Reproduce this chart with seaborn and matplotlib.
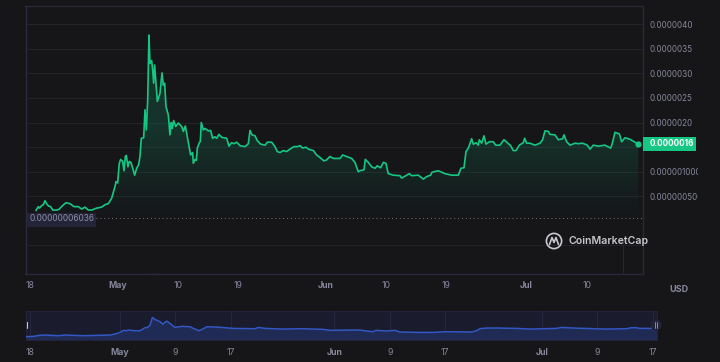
import numpy as np
import pandas as pd
import seaborn as sns
import matplotlib.pyplot as plt
import matplotlib.dates as mdates
from matplotlib.lines import Line2D
from matplotlib.patches import Circle, Rectangle
from matplotlib.transforms import Bbox

# giorni dal 18 aprile / prezzo in 1e-6 USD
giorni = [0.89, 1.24, 1.39, 1.74, 1.99, 2.24, 2.48, 2.78, 3.08, 3.38, 3.97, 4.37, 4.77, 5.37, 5.96, 6.56, 7.20, 7.70, 8.20, 8.69,
          9.19, 9.94, 10.68, 11.18, 11.67, 12.17, 12.67, 12.82, 13.06, 13.31, 13.51, 13.81, 14.01, 14.21, 14.36, 14.60, 14.80, 15.05, 15.30, 15.60,
          15.90, 16.19, 16.39, 16.59, 16.94, 17.14, 17.34, 17.54, 17.73, 17.88, 18.13, 18.28, 18.43, 18.58, 18.73, 18.98, 19.37, 19.67, 19.87, 20.07,
          20.27, 20.62, 20.86, 21.06, 21.21, 21.41, 21.71, 22.11, 22.60, 22.85, 23.15, 23.45, 23.94, 24.24, 24.34, 24.59, 24.79, 24.94, 25.24, 25.38,
          25.53, 25.83, 26.08, 26.58, 26.92, 27.22, 27.57, 27.82, 28.17, 28.56, 29.31, 29.66, 30.05, 30.40, 30.80, 31.30, 32.04, 32.54, 32.79, 33.08,
          33.53, 33.88, 34.38, 35.02, 35.37, 36.02, 36.51, 36.86, 37.26, 37.75, 38.25, 38.75, 39.34, 39.84, 40.24, 40.64, 41.13, 41.48, 42.23, 42.72,
          43.22, 43.81, 44.21, 44.71, 45.21, 46.20, 46.60, 47.19, 47.94, 48.43, 48.93, 49.18, 49.78, 49.97, 50.42, 50.92, 51.42, 51.76, 52.26, 52.66,
          53.05, 53.40, 54.15, 55.14, 55.39, 55.89, 56.53, 56.88, 57.87, 58.62, 59.12, 59.71, 59.91, 60.85, 61.85, 62.84, 63.83, 64.23, 64.68, 64.98,
          65.33, 65.82, 66.07, 66.47, 66.82, 66.96, 67.31, 67.66, 67.96, 68.45, 69.05, 69.40, 70.04, 70.64, 71.14, 71.63, 72.03, 72.43, 72.93, 73.52,
          73.72, 74.02, 74.52, 75.26, 76.01, 76.40, 76.75, 77.25, 77.50, 78.24, 78.74, 79.38, 79.58, 79.98, 80.48, 81.22, 81.72, 82.36, 83.06, 83.46,
          83.95, 84.70, 85.69, 86.54, 86.79, 87.18, 87.83, 88.18, 88.67, 89.42, 90.66]
prezzo = [0.21, 0.29, 0.26, 0.31, 0.33, 0.41, 0.35, 0.30, 0.29, 0.22, 0.22, 0.24, 0.30, 0.37, 0.35, 0.29, 0.29, 0.24, 0.28, 0.22,
          0.22, 0.26, 0.28, 0.33, 0.35, 0.46, 0.70, 0.80, 0.77, 1.17, 1.25, 1.21, 1.02, 1.31, 1.33, 1.10, 1.21, 1.19, 1.07, 0.93,
          1.07, 1.14, 1.31, 1.68, 1.69, 2.26, 1.85, 2.46, 3.78, 3.20, 3.26, 3.07, 2.80, 3.17, 2.90, 2.43, 2.59, 3.01, 2.76, 2.80,
          2.32, 2.15, 1.75, 2.00, 1.88, 2.04, 1.92, 1.99, 1.92, 1.82, 1.93, 1.71, 1.34, 1.39, 1.17, 1.25, 1.23, 1.48, 1.59, 1.61,
          2.00, 1.85, 1.88, 1.83, 1.84, 1.68, 1.71, 1.68, 1.76, 1.70, 1.68, 1.52, 1.59, 1.57, 1.60, 1.53, 1.51, 1.57, 1.84, 1.75,
          1.73, 1.63, 1.56, 1.54, 1.60, 1.60, 1.51, 1.41, 1.39, 1.43, 1.41, 1.46, 1.51, 1.51, 1.53, 1.48, 1.50, 1.46, 1.43, 1.34,
          1.29, 1.22, 1.24, 1.31, 1.27, 1.27, 1.34, 1.31, 1.27, 1.19, 1.00, 1.02, 1.04, 1.25, 1.19, 1.10, 1.07, 1.12, 1.08, 1.19,
          1.17, 0.96, 0.93, 0.92, 0.87, 0.91, 0.96, 0.92, 0.93, 0.85, 0.90, 0.93, 0.99, 1.02, 0.96, 0.93, 0.93, 1.07, 1.08, 1.41,
          1.48, 1.67, 1.56, 1.59, 1.54, 1.65, 1.58, 1.73, 1.56, 1.61, 1.61, 1.54, 1.54, 1.65, 1.59, 1.53, 1.43, 1.43, 1.54, 1.59,
          1.68, 1.58, 1.58, 1.54, 1.58, 1.65, 1.83, 1.82, 1.76, 1.75, 1.65, 1.67, 1.75, 1.61, 1.54, 1.58, 1.57, 1.58, 1.54, 1.46,
          1.54, 1.52, 1.54, 1.48, 1.58, 1.80, 1.77, 1.61, 1.69, 1.66, 1.56]

# serie del navigatore in basso
giorni_mini = [-0.67, 0.48, 1.35, 2.17, 4.09, 5.06, 7.71, 11.56, 12.28, 13.01, 13.49, 13.97, 14.21, 15.17, 15.90, 16.62, 17.00, 17.34, 17.68, 18.06,
               18.79, 19.17, 19.75, 20.23, 20.91, 21.92, 23.12, 23.60, 24.42, 25.05, 25.53, 26.97, 29.38, 32.51, 33.00, 33.96, 36.61, 39.50, 42.39, 43.35,
               46.24, 47.69, 48.65, 49.62, 50.00, 51.54, 52.75, 53.47, 55.88, 58.29, 60.21, 63.83, 64.55, 65.03, 66.00, 67.44, 70.33, 72.26, 76.11, 76.83,
               78.52, 81.41, 83.34, 86.23, 86.95, 87.67, 88.15, 89.83]
prezzo_mini = [0.25, 0.30, 0.47, 0.52, 0.41, 0.52, 0.41, 0.52, 0.68, 0.95, 1.28, 1.22, 1.33, 1.22, 1.22, 1.71, 1.76, 2.14, 3.38, 3.06,
               2.68, 2.30, 2.79, 2.41, 1.76, 1.93, 1.87, 1.60, 1.22, 1.55, 1.87, 1.82, 1.60, 1.55, 1.76, 1.60, 1.49, 1.55, 1.44, 1.28,
               1.33, 1.33, 1.17, 1.06, 1.28, 1.17, 1.28, 1.01, 0.95, 0.95, 1.06, 1.01, 1.22, 1.55, 1.66, 1.66, 1.60, 1.49, 1.60, 1.76,
               1.66, 1.55, 1.49, 1.55, 1.71, 1.71, 1.60, 1.60]

y_tick = [4.0, 3.5, 3.0, 2.5, 2.0, 1.5, 1.0, 0.5, -0.5]
y_label = ['0.0000040', '0.0000035', '0.0000030', '0.0000025', '0.0000020', '', '0.000001000', '0.000000500', '']
x_tick = ['04-18', '05-01', '05-10', '05-19', '06-01', '06-10', '06-19', '07-01', '07-10']
x_label = ['18', 'May', '10', '19', 'Jun', '10', '19', 'Jul', '10']
x_tick_mini = ['04-18', '05-01', '05-09', '05-17', '06-01', '06-09', '06-17', '07-01', '07-09', '07-17']
x_label_mini = ['18', 'May', '9', '17', 'Jun', '9', '17', 'Jul', '9', '17']
ultimo_prezzo = '0.0000016'
minimo = 0.06036
minimo_label = '0.00000006036'

SFONDO = '#161619'
VERDE = '#16c784'
BLU = '#3358c4'
GRIGIO = '#85869a'
BORDO = '#2a2a3c'

sns.set_theme(style='dark', rc={'axes.facecolor': SFONDO, 'figure.facecolor': SFONDO, 'savefig.facecolor': SFONDO})
plt.rcParams['font.family'] = ['Inter', 'DejaVu Sans']

W, H = 720, 362
inizio = pd.Timestamp('2024-04-18')


def date(valori):
    return inizio + pd.to_timedelta(valori, unit='D')


def tick_date(lista):
    return [pd.Timestamp('2024-' + t) for t in lista]


def box(x0, y0, x1, y1):
    # pixel dall'alto -> coordinate figura
    return [x0 / W, 1 - y1 / H, (x1 - x0) / W, (y1 - y0) / H]


data = pd.DataFrame({'Data': date(giorni), 'Prezzo': prezzo})
data_mini = pd.DataFrame({'Data': date(giorni_mini), 'Prezzo': prezzo_mini})

fig = plt.figure(figsize=(W / 100, H / 100), dpi=100)
ax = fig.add_axes(box(25.5, 6, 643, 274))
ax2 = fig.add_axes(box(25.5, 310.5, 657, 340))

# --- grafico principale ---
xlim = (date(-0.67), date(91.36))
ylim = (-1.08, 4.37)

riempimento = ax.fill_between(data['Data'], minimo, data['Prezzo'], color='none', lw=0)
livelli = np.linspace(4.0, minimo, 300)
gradiente = np.zeros((300, 2, 4))
gradiente[..., :3] = (0.086, 0.78, 0.518)
gradiente[..., 3] = np.clip((livelli[:, None] - minimo) * 0.095, 0, 0.17)
img = ax.imshow(gradiente, aspect='auto', origin='upper', zorder=1,
                extent=(mdates.date2num(xlim[0]), mdates.date2num(xlim[1]), minimo, 4.0))
img.set_clip_path(riempimento.get_paths()[0], transform=ax.transData)

sns.lineplot(data=data, x='Data', y='Prezzo', ax=ax, color=VERDE, lw=1.2, estimator=None, sort=False, zorder=3)
ax.scatter(data['Data'].iloc[-1], prezzo[-1], s=20, color=VERDE, zorder=4, clip_on=False, lw=0)
ax.axhline(minimo, color='#77787f', lw=0.7, ls=(0, (1, 3)), zorder=2)
ax.axvline(date(88.4), ymin=0, ymax=0.12, color='#24243a', lw=0.8, zorder=1)
ax.plot([date(17.1), date(19.2)], [-1.07, -1.07], color='#33365a', lw=1, zorder=2)

ax.set_xlim(*xlim)
ax.set_ylim(*ylim)
ax.yaxis.tick_right()
ax.set_yticks(y_tick, y_label)
ax.set_xticks(tick_date(x_tick), x_label)
ax.set_xlabel('')
ax.set_ylabel('')
ax.grid(axis='y', color='#222229', lw=0.8)
ax.grid(axis='x', visible=False)
ax.tick_params(axis='y', length=0, pad=4.8, labelsize=5.8, labelcolor=GRIGIO)
ax.tick_params(axis='x', length=0, pad=5.2, labelsize=6.3, labelcolor=GRIGIO)
for s in ax.spines.values():
    s.set_visible(True)
    s.set_color(BORDO)
    s.set_linewidth(0.9)
for lab, testo in zip(ax.get_xticklabels(), x_label):
    if testo.isalpha():
        lab.set_fontweight('bold')

# le etichette lunghe sono tagliate a destra
taglio = Bbox([[0, 0], [698, H]])
for lab in ax.get_yticklabels():
    lab.set_clip_box(taglio)
    lab.set_clip_on(True)

# --- navigatore ---
xlim2 = (date(-0.67), date(90.65))
ax2.set_facecolor('#1a1b2d')
ax2.fill_between(data_mini['Data'], -0.29, data_mini['Prezzo'], color='#1f2a55', lw=0, zorder=2)
ax2.fill_between([date(89.83), date(90.65)], -0.29, prezzo_mini[-1], color='#1f2a55', lw=0, zorder=2)
sns.lineplot(data=data_mini, x='Data', y='Prezzo', ax=ax2, color=BLU, lw=1.1, estimator=None, sort=False, zorder=3)
ax2.set_xlim(*xlim2)
ax2.set_ylim(-0.29, 4.52)
ax2.set_yticks([])
ax2.set_xticks(tick_date(x_tick_mini), x_label_mini)
ax2.set_xlabel('')
ax2.set_ylabel('')
ax2.grid(axis='x', color='#272840', lw=0.7)
ax2.tick_params(axis='x', length=0, pad=5.5, labelsize=6.3, labelcolor=GRIGIO)
for s in ax2.spines.values():
    s.set_visible(True)
    s.set_color('#24253c')
    s.set_linewidth(0.7)
for lab, testo in zip(ax2.get_xticklabels(), x_label_mini):
    if testo.isalpha():
        lab.set_fontweight('bold')


# --- etichette sopra i grafici ---
def rett(x0, y0, x1, y1, colore):
    fig.add_artist(Rectangle((x0 / W, 1 - y1 / H), (x1 - x0) / W, (y1 - y0) / H, transform=fig.transFigure,
                             color=colore, lw=0, zorder=5))


def scritta(x, y, testo, **kw):
    fig.text(x / W, 1 - y / H, testo, va='center', zorder=6, **kw)


def cerchio(x, y, r, **kw):
    # raggio in pixel, cosi' resta tondo
    fig.add_artist(Circle((x / 100, (H - y) / 100), r / 100, transform=fig.dpi_scale_trans, zorder=5, **kw))


rett(643, 137, 696, 150.5, VERDE)
scritta(650, 143.5, ultimo_prezzo, color='white', fontsize=5.8, fontweight='bold')
rett(27, 213, 95.5, 226.5, '#23243a')
scritta(29, 218.7, minimo_label, color='#8f909f', fontsize=5.9)
scritta(669, 290, 'USD', color=GRIGIO, fontsize=6.5, fontweight='bold')

# logo CoinMarketCap
cerchio(554, 241, 7.6, fill=False, ec='#c8c8cc', lw=1.2)
mx = [549.5, 552, 554, 556, 558.5]
my = [244.5, 237.5, 242.5, 237.5, 244.5]
fig.add_artist(Line2D([v / W for v in mx], [1 - v / H for v in my], transform=fig.transFigure, color='#c8c8cc', lw=1.2, zorder=5))
scritta(568.5, 241.5, 'CoinMarketCap', color='#c8c8cc', fontsize=7.6, fontweight='semibold')

# maniglie del navigatore
cerchio(656, 325, 5.5, color='#23243a', lw=0)
for x in (655.3, 657.3):
    fig.add_artist(Line2D([x / W, x / W], [1 - 322 / H, 1 - 328 / H], transform=fig.transFigure, color='#9a9aa6', lw=0.6, zorder=6))
fig.add_artist(Line2D([26.6 / W, 26.6 / W], [1 - 322 / H, 1 - 328 / H], transform=fig.transFigure, color='#c8c8cc', lw=0.8, zorder=6))

plt.savefig('out.png', dpi=100)
plt.close()
